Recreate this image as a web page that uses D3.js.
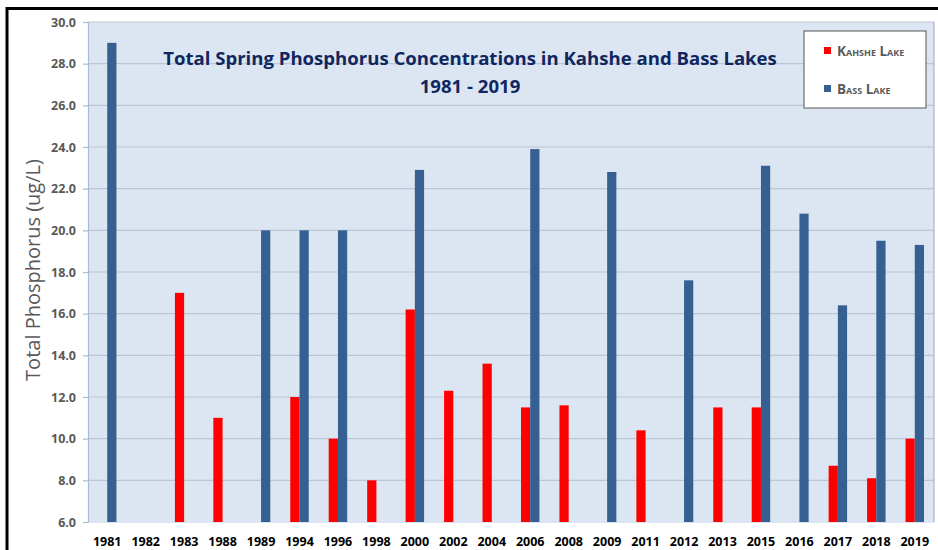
<!DOCTYPE html>
<html>
<head>
<meta charset="utf-8">
<script src="https://cdn.jsdelivr.net/npm/d3@7"></script>
<style>
  html, body { margin: 0; padding: 0; background: #ffffff; }
  svg { display: block; }
</style>
</head>
<body>
<svg id="chart" width="938" height="550"></svg>
<script>
// ---- data ----
const years = ["1981","1982","1983","1988","1989","1994","1996","1998","2000","2002","2004","2006","2008","2009","2011","2012","2013","2015","2016","2017","2018","2019"];
const kahshe = [null,null,17.0,11.0,null,12.0,10.0,8.0,16.2,12.3,13.6,11.5,11.6,null,10.4,null,11.5,11.5,null,8.7,8.1,10.0];
const bass   = [29.0,null,null,null,20.0,20.0,20.0,null,22.9,null,null,23.9,null,22.8,null,17.6,null,23.1,20.8,16.4,19.5,19.3];
const seriesNames = ["Kahshe Lake","Bass Lake"];
const seriesColors = ["#ff0000","#366092"];
const yTicks = [6,8,10,12,14,16,18,20,22,24,26,28,30];
const titleLines = ["Total Spring Phosphorus Concentrations in Kahshe and Bass Lakes","1981 - 2019"];
const yLabel = "Total Phosphorus (ug/L)";

// ---- layout ----
const svg = d3.select("#chart");
const plot = {left: 88, right: 934, top: 22, bottom: 522};

// outer frame
svg.append("rect").attr("x",7).attr("y",8.5).attr("width",960).attr("height",600)
  .attr("fill","#ffffff").attr("stroke","#000").attr("stroke-width",3);

const x = d3.scaleBand().domain(years).range([plot.left, plot.right]).paddingInner(0).paddingOuter(0);
const xs = d3.scaleBand().domain(seriesNames).range([x.bandwidth()*0.26, x.bandwidth()*0.74]).padding(0);
const y = d3.scaleLinear().domain([6,30]).range([plot.bottom, plot.top]);

// plot background
svg.append("rect").attr("x",plot.left).attr("y",plot.top)
  .attr("width",plot.right-plot.left).attr("height",plot.bottom-plot.top)
  .attr("fill","#dce6f2");

// gridlines
svg.append("g").selectAll("line").data(yTicks.filter(t=>t>6)).join("line")
  .attr("x1",plot.left).attr("x2",plot.right)
  .attr("y1",d=>y(d)).attr("y2",d=>y(d))
  .attr("stroke","#bcc6d4").attr("stroke-width",1.2);

// plot border right
svg.append("line").attr("x1",plot.right).attr("x2",plot.right).attr("y1",plot.top).attr("y2",plot.bottom)
  .attr("stroke","#a9b5c6").attr("stroke-width",1.2);

// bars
const rows = years.map((yr,i)=>({year:yr, vals:[kahshe[i], bass[i]]}));
const g = svg.append("g");
rows.forEach(r=>{
  r.vals.forEach((v,si)=>{
    if (v==null) return;
    g.append("rect")
      .attr("x", x(r.year)+xs(seriesNames[si]))
      .attr("width", xs.bandwidth())
      .attr("y", y(v))
      .attr("height", y(6)-y(v))
      .attr("fill", seriesColors[si]);
  });
});

// y axis
const yAxis = d3.axisLeft(y).tickValues(yTicks).tickFormat(d3.format(".1f")).tickSize(5).tickPadding(7);
const ya = svg.append("g").attr("transform",`translate(${plot.left},0)`).call(yAxis);
ya.select(".domain").attr("stroke","#a6bcd9").attr("stroke-width",1.2);
ya.selectAll(".tick line").attr("stroke","#a6bcd9").attr("stroke-width",1.2);
ya.selectAll(".tick text").attr("fill","#595959").style("font-family","'Open Sans', sans-serif")
  .style("font-weight","bold").style("font-size","12.5px");

// x axis
const xAxis = d3.axisBottom(x).tickSize(0).tickPadding(15);
const xa = svg.append("g").attr("transform",`translate(0,${plot.bottom})`).call(xAxis);
xa.select(".domain").attr("stroke","#dce6f2").attr("stroke-width",1);
xa.selectAll(".tick text").attr("fill","#000").style("font-family","'Open Sans', sans-serif")
  .style("font-weight","bold").style("font-size","12.5px");

// y label
svg.append("text").attr("transform","translate(40,270) rotate(-90)")
  .attr("text-anchor","middle").attr("fill","#595959")
  .style("font-family","'Open Sans', sans-serif").style("font-size","20px")
  .text(yLabel);

// title
const t1 = svg.append("text").attr("x",470).attr("y",65).attr("text-anchor","middle")
  .attr("fill","#10265f").style("font-family","'Open Sans', sans-serif").style("font-weight","bold")
  .style("font-size","19px").text(titleLines[0]);
const w1 = t1.node().getComputedTextLength();
t1.style("font-size", (19*614/w1).toFixed(2)+"px");
svg.append("text").attr("x",470).attr("y",93).attr("text-anchor","middle")
  .attr("fill","#10265f").style("font-family","'Open Sans', sans-serif").style("font-weight","bold")
  .style("font-size", (19*614/w1).toFixed(2)+"px").text(titleLines[1]);

// legend
const lg = svg.append("g");
lg.append("rect").attr("x",804).attr("y",31).attr("width",122).attr("height",77)
  .attr("fill","#fff").attr("stroke","#555").attr("stroke-width",1);
seriesNames.forEach((n,i)=>{
  const yy = 51 + i*38;
  lg.append("rect").attr("x",824).attr("y",yy-4).attr("width",7).attr("height",7).attr("fill",seriesColors[i]);
  lg.append("text").attr("x",837).attr("y",yy+5).attr("fill","#595959")
    .style("font-family","'Open Sans', sans-serif").style("font-weight","bold")
    .style("font-size","13.5px").style("font-variant","small-caps").text(n);
});
</script>
</body>
</html>
